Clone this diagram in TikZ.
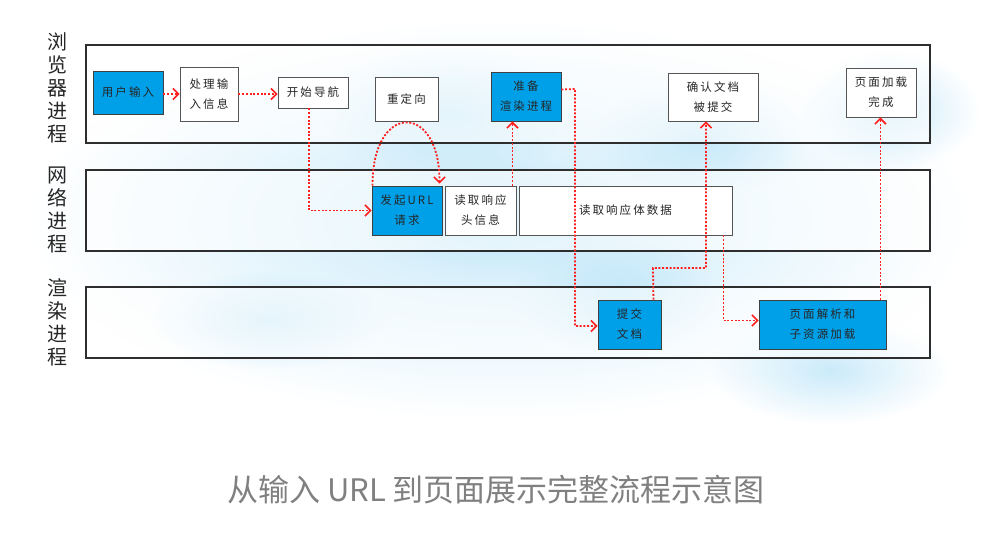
\documentclass[tikz,border=0pt]{standalone}
\usepackage{fontspec}
\newfontfamily\cjk{Noto Sans CJK SC}
\newfontfamily\cjknode[LetterSpace=18]{Noto Sans CJK SC}
\usetikzlibrary{arrows.meta,fadings,calc}
\definecolor{nodeblue}{HTML}{00A0E9}
\definecolor{arrowred}{HTML}{FF2020}
\definecolor{glowblue}{HTML}{BDE5F8}
\definecolor{capgray}{HTML}{808080}
\definecolor{lanegray}{HTML}{2E2E2E}
\definecolor{boxgray}{HTML}{555555}
\tikzfading[name=glowfade, inner color=transparent!20, outer color=transparent!100]
\begin{document}
\begin{tikzpicture}[x=1pt,y=-1pt,
  lane/.style={draw=lanegray, line width=1.6pt, fill=white, fill opacity=0.55},
  lanelabel/.style={font=\cjk\fontsize{20}{23}\selectfont, align=center, text=black!85, inner sep=0pt},
  box/.style={draw=boxgray, line width=0.9pt, fill=white, inner sep=0pt, align=center,
     font=\cjknode\fontsize{11.5}{20}\selectfont, text=black!85},
  bluebox/.style={box, fill=nodeblue, draw=black!75},
  flow/.style={draw=arrowred, line width=1.8pt, dash pattern=on 2pt off 1.7pt,
     -{Straight Barb[length=5.5pt,width=11pt,line width=1.6pt,sep=0pt]}},
  glow/.style={fill=glowblue, path fading=glowfade}
]
\useasboundingbox (0,0) rectangle (1000,544);
% background glow
\fill[glow] (500,220) ellipse (470 and 200);
\fill[glow] (450,115) ellipse (130 and 70);
\fill[glow] (500,215) ellipse (130 and 60);
\fill[glow] (620,290) ellipse (110 and 70);
\fill[glow] (830,370) ellipse (120 and 55);
\fill[glow] (890,110) ellipse (90 and 60);
\fill[glow] (700,140) ellipse (110 and 60);
\fill[glow] (270,320) ellipse (120 and 50);

% lanes
\draw[lane] (86,45) rectangle (930,143);
\draw[lane] (86,170) rectangle (930,251);
\draw[lane] (86,287) rectangle (930,358);

\node[lanelabel] (lbrowser) at (57,88) {浏\\览\\器\\进\\程};
\node[lanelabel] (lnet) at (57,210) {网\\络\\进\\程};
\node[lanelabel] (lrender) at (57,322) {渲\\染\\进\\程};

% nodes
\node[bluebox, minimum width=70pt, minimum height=43pt] (user) at (128,92.5) {用户输入};
\node[box, minimum width=58pt, minimum height=54pt] (proc) at (209,94) {处理输\\入信息};
\node[box, minimum width=70pt, minimum height=31pt] (nav) at (313,92.5) {开始导航};
\node[box, minimum width=63pt, minimum height=44pt] (redir) at (406.5,99) {重定向};
\node[bluebox, minimum width=70pt, minimum height=49pt] (prep) at (526,96.5) {准备\\渲染进程};
\node[box, minimum width=90pt, minimum height=48pt] (confirm) at (713,97) {确认文档\\被提交};
\node[box, minimum width=70pt, minimum height=49pt] (done) at (881,92.5) {页面加载\\完成};
\node[bluebox, minimum width=70pt, minimum height=49pt] (req) at (407,210.5) {发起URL\\请求};
\node[box, minimum width=71pt, minimum height=49pt] (head) at (480.5,210.5) {读取响应\\头信息};
\node[box, minimum width=213pt, minimum height=49pt] (body) at (625.5,210.5) {读取响应体数据};
\node[bluebox, minimum width=63pt, minimum height=49pt] (commit) at (629.5,324.5) {提交\\文档};
\node[bluebox, minimum width=127pt, minimum height=49pt] (parse) at (822.5,324.5) {页面解析和\\子资源加载};

% waypoints
\coordinate (navout) at ($(nav.south)+(-4,0)$);
\coordinate (reqin) at (req.west);
\coordinate (headout) at ($(head.north east)+(-4,0)$);
\coordinate (prepout) at ($(prep.east)+(0,-7)$);
\coordinate (prepturn) at (575,89);
\coordinate (commitin) at ($(commit.west)+(0,1.5)$);
\coordinate (commitout) at ($(commit.north east)+(-8,0)$);
\coordinate (committurn) at (653,268);
\coordinate (confirmturn) at (706,268);
\coordinate (bodyout) at ($(body.south east)+(-9,0)$);
\coordinate (parsein) at ($(parse.west)+(0,-4)$);
\coordinate (parseout) at ($(parse.north east)+(-6,0)$);
\coordinate (reqa) at ($(req.north west)+(1,0)$);
\coordinate (reqb) at ($(req.north east)+(-3,-2)$);

% connectors
\draw[flow] (user.east |- proc.west) -- (proc.west);
\draw[flow] (proc.east) -- (proc.east -| nav.west);
\draw[flow] (navout) |- (reqin);
\draw[flow] (reqa) .. controls (372,102) and (440,102) .. (reqb);
\draw[flow] (headout) -- (headout |- prep.south);
\draw[flow] (prepout) -- (prepturn) |- (commitin);
\draw[flow] (commitout) -- (committurn) -- (confirmturn) -- (confirmturn |- confirm.south);
\draw[flow] (bodyout) |- (parsein);
\draw[flow] (parseout) -- (parseout |- done.south);

% caption
\node[font=\cjk\fontsize{31}{34}\selectfont, text=capgray, inner sep=0pt] (caption) at (496,490) {从输入 URL 到页面展示完整流程示意图};
\end{tikzpicture}
\end{document}
